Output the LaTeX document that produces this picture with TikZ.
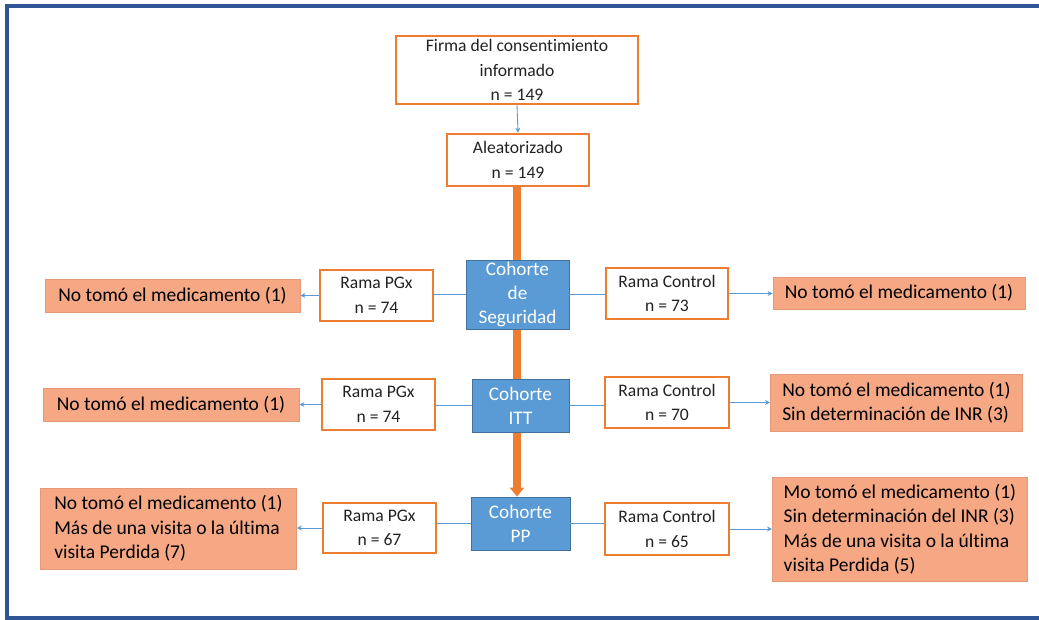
\documentclass[tikz,border=0pt]{standalone}
\usepackage{fontspec}
\setmainfont{Carlito}[Ligatures={NoCommon}]
\usetikzlibrary{arrows.meta,backgrounds}
\definecolor{frameblue}{HTML}{2F5597}
\definecolor{oborder}{HTML}{ED7D31}
\definecolor{cblue}{HTML}{5B9BD5}
\definecolor{cblued}{HTML}{41719C}
\definecolor{salmon}{HTML}{F6A885}
\definecolor{salmond}{HTML}{E49A78}
\definecolor{txt}{HTML}{222222}
\tikzset{
  wbox/.style={draw=oborder, line width=2.5pt, fill=white, inner sep=0pt, align=center, text=txt,
    font=\fontsize{17.6}{24.5}\selectfont},
  cbox/.style={draw=cblued, line width=0.8pt, fill=cblue, inner sep=0pt, align=center, text=white,
    font=\fontsize{19.2}{24}\selectfont},
  sbox/.style={draw=salmond, line width=0.8pt, fill=salmon, inner sep=0pt, text=black,
    font=\fontsize{19.5}{24.5}\selectfont},
  sboxl/.style={sbox, align=left, anchor=west},
  barrow/.style={draw=cblue, line width=0.9pt, -{Stealth[length=5pt,width=5pt]}},
  bline/.style={draw=cblue, line width=1.6pt},
  oarrow/.style={draw=oborder, line width=8pt}
}
\begin{document}
\begin{tikzpicture}[x=1pt,y=-1pt]
\useasboundingbox (0,0) rectangle (1039,619);
% frame
\draw[frameblue, line width=4pt] (1045,6) -- (7,6) -- (7,617.5) -- (1045,617.5);

% top
\node[wbox, minimum width=242pt, minimum height=68pt] (firma) at (517,70) {Firma del consentimiento\\informado\\n = 149};
\node[wbox, minimum width=142pt, minimum height=52pt] (alea) at (518,160) {Aleatorizado\\n = 149};

% cohorts
\node[cbox, minimum width=103pt, minimum height=69pt] (seg) at (517.5,294.5) {Cohorte\\de\\Seguridad};
\node[cbox, minimum width=97pt, minimum height=53pt] (itt) at (520.5,405.5) {Cohorte\\ITT};
\node[cbox, minimum width=99pt, minimum height=53pt] (pp) at (520.5,523.5) {Cohorte\\PP};

% row 1
\node[wbox, minimum width=113pt, minimum height=51pt] (pgx1) at (376.5,295.5) {Rama PGx\\n = 74};
\node[wbox, minimum width=122pt, minimum height=51pt] (ctl1) at (667,293.5) {Rama Control\\n = 73};
\node[sbox, minimum width=255pt, minimum height=33pt] (nl1) at (172.5,295.5) {No tomó el medicamento (1)};
\node[sbox, minimum width=252pt, minimum height=32pt] (nr1) at (899,293) {No tomó el medicamento (1)};

% row 2
\node[wbox, minimum width=113pt, minimum height=51pt] (pgx2) at (378.5,404.5) {Rama PGx\\n = 74};
\node[wbox, minimum width=124pt, minimum height=51pt] (ctl2) at (667,402.5) {Rama Control\\n = 70};
\node[sbox, minimum width=256pt, minimum height=33pt] (nl2) at (171,404.5) {No tomó el medicamento (1)};
\node[sboxl, minimum width=252pt, minimum height=57pt, inner xsep=9pt] (nr2) at (770,402.5) {No tomó el medicamento (1)\\Sin determinación de INR (3)};

% row 3
\node[wbox, minimum width=113pt, minimum height=50pt] (pgx3) at (379.5,528) {Rama PGx\\n = 67};
\node[wbox, minimum width=124pt, minimum height=52pt] (ctl3) at (667,529) {Rama Control\\n = 65};
\node[sboxl, minimum width=256pt, minimum height=81pt, inner xsep=9pt] (nl3) at (40,528.5) {No tomó el medicamento (1)\\Más de una visita o la última\\visita Perdida (7)};
\node[sboxl, minimum width=255pt, minimum height=104pt, inner xsep=9pt] (nr3) at (772,529) {Mo tomó el medicamento (1)\\Sin determinación del INR (3)\\Más de una visita o la última\\visita Perdida (5)};

% connectors
\draw[barrow] (firma.south) -- (alea.north);
\begin{scope}[on background layer]
\draw[oarrow, -{Triangle[width=14pt,length=9pt]}] ([yshift=4pt]alea.south -| 517,0) -- (pp.north -| 517,0);
\end{scope}

\draw[bline] (seg.west) -- (seg.west -| pgx1.east);
\draw[bline] (seg.east) -- (seg.east -| ctl1.west);
\draw[barrow] (pgx1.west) -- (pgx1.west -| nl1.east);
\draw[barrow] (ctl1.east) -- (ctl1.east -| nr1.west);

\draw[bline] (itt.west) -- (itt.west -| pgx2.east);
\draw[bline] (itt.east) -- (itt.east -| ctl2.west);
\draw[barrow] (pgx2.west) -- (pgx2.west -| nl2.east);
\draw[barrow] (ctl2.east) -- (ctl2.east -| nr2.west);

\draw[bline] (pp.west) -- (pp.west -| pgx3.east);
\draw[bline] (pp.east) -- (pp.east -| ctl3.west);
\draw[barrow] (pgx3.west) -- (pgx3.west -| nl3.east);
\draw[barrow] (ctl3.east) -- (ctl3.east -| nr3.west);
\end{tikzpicture}
\end{document}
